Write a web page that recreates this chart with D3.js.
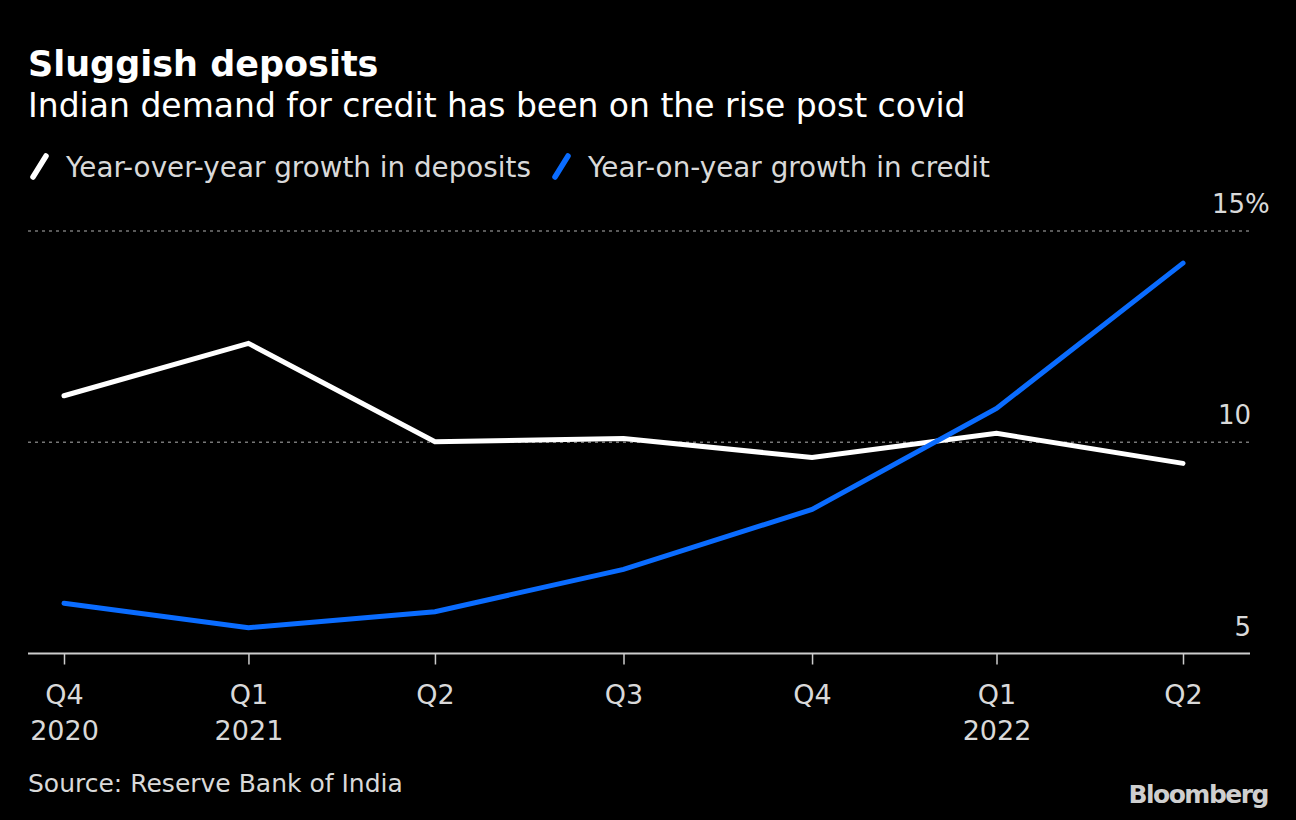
<!DOCTYPE html>
<html>
<head>
<meta charset="utf-8">
<script src="https://cdn.jsdelivr.net/npm/d3@7"></script>
<style>
  html, body { margin: 0; padding: 0; background: #000; }
  svg { display: block; }
  text { font-family: "DejaVu Sans", "Noto Sans", sans-serif; }
</style>
</head>
<body>
<svg id="chart"></svg>
<script>
// quarter-end dates, Q4 2020 .. Q2 2022
var quarters = ["2020-12-31", "2021-03-31", "2021-06-30", "2021-09-30", "2021-12-31", "2022-03-31", "2022-06-30"];
var quarterLabels = ["Q4", "Q1", "Q2", "Q3", "Q4", "Q1", "Q2"];
var yearLabels = ["2020", "2021", "", "", "", "2022", ""];
var deposits = [11.1, 12.34, 10.01, 10.09, 9.64, 10.21, 9.5];
var credit = [6.19, 5.61, 5.99, 6.99, 8.41, 10.8, 14.24];
var yTicks = [5, 10, 15];

var width = 1296, height = 820;
var parse = d3.timeParse("%Y-%m-%d");
var dates = quarters.map(parse);

var svg = d3.select("#chart")
    .attr("width", width)
    .attr("height", height);

svg.append("rect").attr("width", width).attr("height", height).attr("fill", "#000");

var x = d3.scaleTime()
    .domain(d3.extent(dates))
    .range([64, 1183]);

var y = d3.scaleLinear()
    .domain([5, 15])
    .range([653.5, 231]);

// titles
svg.append("text")
    .attr("x", 28).attr("y", 76)
    .attr("fill", "#fff")
    .attr("font-size", 35)
    .attr("font-weight", 700)
    .text("Sluggish deposits");

svg.append("text")
    .attr("x", 28).attr("y", 117)
    .attr("fill", "#fff")
    .attr("font-size", 33)
    .text("Indian demand for credit has been on the rise post covid");

// legend
var legend = [
    {name: "Year-over-year growth in deposits", color: "#ffffff", x: 30},
    {name: "Year-on-year growth in credit", color: "#0a6cff", x: 552}
];
var lg = svg.selectAll(".legend")
    .data(legend)
    .enter()
    .append("g")
    .attr("class", "legend")
    .attr("transform", function(d) { return "translate(" + d.x + ",0)"; });
lg.append("line")
    .attr("x1", 3).attr("y1", 177)
    .attr("x2", 16).attr("y2", 156)
    .attr("stroke", function(d) { return d.color; })
    .attr("stroke-width", 5.5)
    .attr("stroke-linecap", "round");
lg.append("text")
    .attr("x", 36).attr("y", 177)
    .attr("fill", "#d9d9d9")
    .attr("font-size", 27.8)
    .text(function(d) { return d.name; });

// gridlines
svg.selectAll(".grid")
    .data(yTicks.filter(function(d) { return d > 5; }))
    .enter()
    .append("line")
    .attr("class", "grid")
    .attr("x1", 28).attr("x2", 1250)
    .attr("y1", function(d) { return y(d); })
    .attr("y2", function(d) { return y(d); })
    .attr("stroke", "#777")
    .attr("stroke-width", 1.5)
    .attr("stroke-dasharray", "3,4");

// y labels
var yl = svg.selectAll(".ylab")
    .data(yTicks)
    .enter()
    .append("text")
    .attr("class", "ylab")
    .attr("x", 1251)
    .attr("y", function(d) { return y(d) - 18; })
    .attr("fill", "#d9d9d9")
    .attr("font-size", 26)
    .attr("text-anchor", "end")
    .text(function(d) { return d; });
yl.filter(function(d) { return d === 15; })
    .append("tspan")
    .text("%");
// let the % hang past the right edge
yl.filter(function(d) { return d === 15; })
    .each(function() {
        var pct = this.querySelector("tspan").getComputedTextLength();
        d3.select(this).attr("x", 1251 + pct - 6);
    });

// x axis
var xAxis = d3.axisBottom(x)
    .tickValues(dates)
    .tickSize(11)
    .tickFormat(function(d, i) { return quarterLabels[i]; });

var gx = svg.append("g")
    .attr("transform", "translate(0," + y(5) + ")")
    .call(xAxis);
gx.select(".domain").remove();
gx.selectAll(".tick line").attr("stroke", "#ccc").attr("stroke-width", 1.5);
gx.selectAll(".tick text")
    .attr("fill", "#d9d9d9")
    .attr("font-size", 27)
    .attr("font-family", "'DejaVu Sans', sans-serif")
    .attr("dy", null)
    .attr("y", 50);
gx.selectAll(".tick")
    .append("text")
    .attr("y", 86)
    .attr("fill", "#d9d9d9")
    .attr("font-size", 27)
    .attr("text-anchor", "middle")
    .text(function(d, i) { return yearLabels[i]; });

svg.append("line")
    .attr("x1", 28).attr("x2", 1250)
    .attr("y1", y(5)).attr("y2", y(5))
    .attr("stroke", "#ccc")
    .attr("stroke-width", 2);

// lines
var line = d3.line()
    .x(function(d, i) { return x(dates[i]); })
    .y(function(d) { return y(d); });

svg.append("path")
    .datum(deposits)
    .attr("d", line)
    .attr("fill", "none")
    .attr("stroke", "#ffffff")
    .attr("stroke-width", 5)
    .attr("stroke-linecap", "round");

svg.append("path")
    .datum(credit)
    .attr("d", line)
    .attr("fill", "none")
    .attr("stroke", "#0a6cff")
    .attr("stroke-width", 5)
    .attr("stroke-linecap", "round");

// footer
svg.append("text")
    .attr("x", 28).attr("y", 792)
    .attr("fill", "#d9d9d9")
    .attr("font-size", 25)
    .text("Source: Reserve Bank of India");

svg.append("text")
    .attr("x", 1268).attr("y", 803)
    .attr("fill", "#cfcfcf")
    .attr("font-size", 25)
    .attr("font-weight", 700)
    .attr("letter-spacing", -1.5)
    .attr("text-anchor", "end")
    .text("Bloomberg");
</script>
</body>
</html>
